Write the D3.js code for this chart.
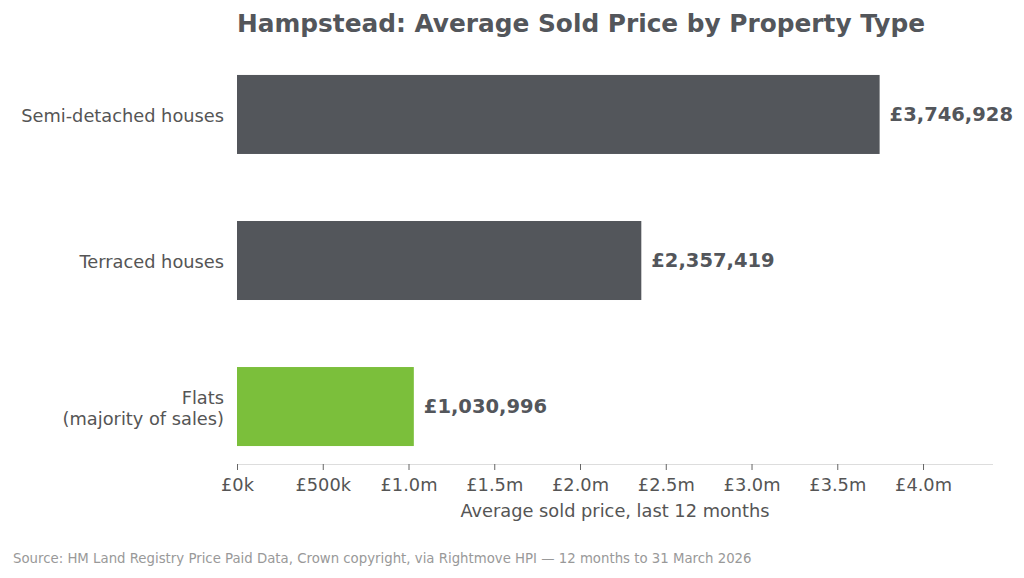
<!DOCTYPE html>
<html>
<head>
<meta charset="utf-8">
<script src="https://cdn.jsdelivr.net/npm/d3@7"></script>
<style>
  body { margin: 0; background: #fff; }
  text { font-family: "DejaVu Sans", sans-serif; }
</style>
</head>
<body>
<div id="chart"></div>
<script>
const categories = ["Semi-detached houses", "Terraced houses", "Flats\n(majority of sales)"];
const prices = [3746928, 2357419, 1030996];
const barColors = ["#53565b", "#53565b", "#7bbf3b"];
const tickValues = [0, 500000, 1000000, 1500000, 2000000, 2500000, 3000000, 3500000, 4000000];
const tickLabels = ["£0k", "£500k", "£1.0m", "£1.5m", "£2.0m", "£2.5m", "£3.0m", "£3.5m", "£4.0m"];

const width = 1024, height = 578;
const margin = { left: 237, right: 31, top: 57, bottom: 114 };

const svg = d3.select("#chart")
  .append("svg")
  .attr("width", width)
  .attr("height", height);

const x = d3.scaleLinear()
  .domain([0, 4408000])
  .range([margin.left, width - margin.right]);

const y = d3.scaleBand()
  .domain(categories)
  .range([margin.top, height - margin.bottom])
  .paddingInner(0.459)
  .paddingOuter(0.123);

// title
svg.append("text")
  .attr("x", margin.left)
  .attr("y", 32)
  .attr("font-size", 24.8)
  .attr("font-weight", "bold")
  .attr("fill", "#53565b")
  .text("Hampstead: Average Sold Price by Property Type");

// bars
svg.selectAll("rect.bar")
  .data(prices)
  .enter()
  .append("rect")
  .attr("class", "bar")
  .attr("x", x(0))
  .attr("y", (d, i) => y(categories[i]))
  .attr("width", d => x(d) - x(0))
  .attr("height", y.bandwidth())
  .attr("fill", (d, i) => barColors[i]);

// value labels
svg.selectAll("text.val")
  .data(prices)
  .enter()
  .append("text")
  .attr("class", "val")
  .attr("x", d => x(d) + 10)
  .attr("y", (d, i) => y(categories[i]) + y.bandwidth() / 2)
  .attr("dy", "0.35em")
  .attr("font-size", 19.5)
  .attr("font-weight", "bold")
  .attr("fill", "#53565b")
  .text(d => "£" + d3.format(",")(d));

// category labels
categories.forEach(c => {
  const lines = c.split("\n");
  const cy = y(c) + y.bandwidth() / 2 + 1.5;
  const t = svg.append("text")
    .attr("x", margin.left - 13)
    .attr("text-anchor", "end")
    .attr("font-size", 17.8)
    .attr("fill", "#555");
  lines.forEach((ln, j) => {
    t.append("tspan")
      .attr("x", margin.left - 13)
      .attr("y", cy + (j - (lines.length - 1) / 2) * 21)
      .attr("dy", "0.35em")
      .text(ln);
  });
});

// x axis
const axisY = height - margin.bottom;
const xAxis = svg.append("g")
  .attr("transform", `translate(0, ${axisY})`)
  .call(d3.axisBottom(x)
    .tickValues(tickValues)
    .tickFormat((d, i) => tickLabels[i])
    .tickSize(6)
    .tickPadding(8));

xAxis.select(".domain").attr("stroke", "#dddddd").attr("d", `M${x.range()[0]},0.5H${x.range()[1]}`);
xAxis.selectAll(".tick line").attr("stroke", "#666");
xAxis.selectAll(".tick text")
  .attr("font-size", 17.8)
  .attr("fill", "#555")
  .attr("font-family", "DejaVu Sans, sans-serif");

svg.append("text")
  .attr("x", (x.range()[0] + x.range()[1]) / 2)
  .attr("y", 517)
  .attr("text-anchor", "middle")
  .attr("font-size", 17.8)
  .attr("fill", "#555")
  .text("Average sold price, last 12 months");

// source
svg.append("text")
  .attr("x", 13)
  .attr("y", 563)
  .attr("font-size", 13.3)
  .attr("fill", "#999")
  .text("Source: HM Land Registry Price Paid Data, Crown copyright, via Rightmove HPI — 12 months to 31 March 2026");
</script>
</body>
</html>
